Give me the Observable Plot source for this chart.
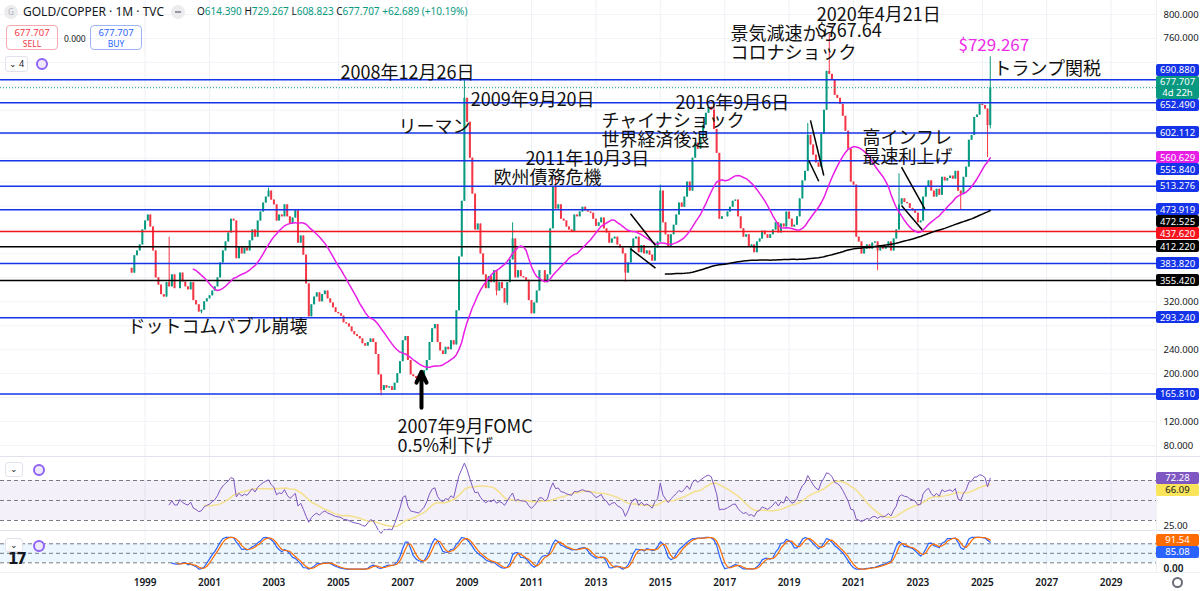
<!DOCTYPE html>
<html><head><meta charset="utf-8">
<script src="https://cdn.jsdelivr.net/npm/d3@7"></script>
<script src="https://cdn.jsdelivr.net/npm/@observablehq/plot@0.6"></script>
<style>
body{margin:0;background:#fff;}
#wrap{position:relative;width:1200px;height:591px;overflow:hidden;background:#fff;font-family:"Noto Sans",Roboto,sans-serif;color:#131722}
.pane{position:absolute;left:0}
.lbl{position:absolute;left:1156px;width:43px;font:9.5px "Noto Sans",Roboto,sans-serif;color:#fff;text-align:center;border-radius:2px;box-sizing:border-box;display:flex;flex-direction:column;justify-content:center;line-height:11px;z-index:5}
.hd{position:absolute;white-space:nowrap}
.g{color:#089981}
</style></head>
<body><div id="wrap">
<div id="main" class="pane" style="top:0"></div>
<div id="rsi" class="pane" style="top:457px"></div>
<div id="stoch" class="pane" style="top:531px"></div>
<div style="position:absolute;left:0;top:456px;width:1200px;height:1px;background:#e0e3eb"></div>
<div style="position:absolute;left:0;top:530px;width:1200px;height:1px;background:#e0e3eb"></div>
<div style="position:absolute;left:0;top:572px;width:1200px;height:1px;background:#eef0f4"></div>
<div style="position:absolute;left:1156px;top:0;width:1px;height:572px;background:#eef0f4"></div>

<div class="hd" style="left:4px;top:5px;width:14px;height:14px;border-radius:50%;background:#ececee;color:#b2b5be;font-size:8px;text-align:center;line-height:14px">G</div>
<div class="hd" style="left:23px;top:3px;font-size:12px;color:#131722">GOLD/COPPER · 1M · TVC</div>
<div class="hd" style="left:171px;top:5px;width:14px;height:14px;border-radius:50%;background:#ececee"><div style="position:absolute;left:4px;top:6px;width:6px;height:2px;background:#9598a1"></div></div>
<div class="hd" style="left:197px;top:4px;font-size:10px;color:#131722">O<span class="g">614.390</span> H<span class="g">729.267</span> L<span class="g">608.823</span> C<span class="g">677.707</span> <span class="g">+62.689 (+10.19%)</span></div>
<div class="hd" style="left:6px;top:25px;width:52px;height:25px;border:1px solid #f7a9b0;border-radius:4px;box-sizing:border-box;color:#f23645;text-align:center;font-size:9.5px;line-height:11px;padding-top:1px">677.707<br><span style="font-size:8.5px">SELL</span></div>
<div class="hd" style="left:64px;top:33px;font-size:8.5px;color:#131722">0.000</div>
<div class="hd" style="left:90px;top:25px;width:52px;height:25px;border:1px solid #9db4fb;border-radius:4px;box-sizing:border-box;color:#2962ff;text-align:center;font-size:9.5px;line-height:11px;padding-top:1px">677.707<br><span style="font-size:8.5px">BUY</span></div>
<div class="hd" style="left:5px;top:56px;width:23px;height:16px;border:1px solid #e0e3eb;border-radius:3px;box-sizing:border-box;font-size:9px;line-height:14px;text-align:center;color:#131722">&#8964; 4</div>
<div class="hd" style="left:36px;top:58px;width:12px;height:12px;border-radius:50%;border:2px solid #8f63f5;box-sizing:border-box;background:#efe9fe"></div>
<div class="hd" style="left:5px;top:462px;width:18px;height:15px;border:1px solid #e0e3eb;border-radius:3px;box-sizing:border-box;font-size:9px;line-height:12px;text-align:center;background:#fff">&#8964;</div>
<div class="hd" style="left:33px;top:464px;width:12px;height:12px;border-radius:50%;border:2px solid #8f63f5;box-sizing:border-box;background:#efe9fe"></div>
<div class="hd" style="left:5px;top:538px;width:18px;height:14px;border:1px solid #e0e3eb;border-radius:3px;box-sizing:border-box;font-size:9px;line-height:11px;text-align:center;background:#fff">&#8964;</div>
<div class="hd" style="left:33px;top:540px;width:12px;height:12px;border-radius:50%;border:2px solid #8f63f5;box-sizing:border-box;background:#efe9fe"></div>
<div class="hd" style="left:8px;top:550px;font-size:15px;font-weight:900;color:#131722;letter-spacing:-2px;font-family:'DejaVu Sans'">17</div>
<div class="hd" style="left:1172px;top:577px;width:11px;height:11px;border-radius:50%;border:2px solid #6a6d78;box-sizing:border-box"></div>
</div>
<script>
// ---------- data: monthly closes of GOLD/COPPER (TVC), first candle Aug 1998 ----------
const firstYear = 1998, firstMonth = 8, firstOpen = 376;
const close1998 = [368, 397, 405, 415, 440];
const close1999 = [455, 465, 445, 405, 360, 348, 332, 328, 352, 345, 365, 342];
const close2000 = [342, 368, 353, 345, 340, 352, 322, 315, 303, 306, 320, 325];
const close2001 = [330, 338, 345, 360, 385, 405, 420, 435, 458, 455, 392, 412];
const close2002 = [400, 410, 405, 422, 440, 428, 455, 470, 485, 495, 505, 490];
const close2003 = [482, 455, 465, 462, 482, 462, 450, 460, 472, 418, 430, 398];
const close2004 = [350, 295, 315, 328, 335, 320, 332, 338, 325, 318, 310, 302];
const close2005 = [300, 296, 285, 283, 278, 270, 265, 262, 258, 250, 246, 252];
const close2006 = [258, 252, 232, 198, 172, 180, 176, 178, 172, 184, 200, 220];
const close2007 = [255, 262, 222, 198, 195, 192, 188, 196, 205, 222, 252, 275];
const close2008 = [282, 252, 238, 232, 244, 240, 255, 248, 305, 395, 488, 660];
const close2009 = [620, 560, 500, 440, 450, 400, 365, 342, 362, 352, 372, 338];
const close2010 = [352, 342, 318, 352, 390, 425, 360, 372, 362, 360, 356, 322];
const close2011 = [300, 318, 338, 372, 372, 352, 365, 442, 512, 475, 482, 458];
const close2012 = [455, 445, 440, 436, 465, 462, 470, 478, 472, 470, 468, 458];
const close2013 = [446, 452, 460, 442, 435, 418, 425, 428, 415, 410, 400, 368];
const close2014 = [385, 410, 425, 428, 402, 414, 400, 405, 398, 388, 410, 420];
const close2015 = [505, 452, 432, 412, 432, 448, 465, 485, 478, 495, 520, 505];
const close2016 = [560, 585, 575, 595, 615, 635, 645, 640, 608, 568, 458, 462];
const close2017 = [462, 470, 478, 488, 490, 462, 442, 428, 432, 412, 415, 402];
const close2018 = [420, 425, 438, 432, 426, 432, 440, 452, 435, 450, 445, 470];
const close2019 = [458, 445, 448, 462, 492, 522, 538, 598, 582, 565, 552, 545];
const close2020 = [600, 640, 705, 700, 690, 665, 660, 650, 630, 605, 575, 520];
const close2021 = [515, 428, 420, 400, 408, 415, 408, 418, 420, 405, 412, 408];
const close2022 = [412, 420, 405, 425, 440, 482, 492, 486, 484, 476, 472, 468];
const close2023 = [452, 455, 495, 512, 522, 505, 495, 508, 498, 528, 522, 526];
const close2024 = [530, 525, 538, 505, 500, 528, 545, 590, 598, 628, 632, 650];
const close2025 = [648, 642, 614.39, 677.707];

// notable wicks
const highMonths = ["1999-10", "2002-11", "2008-12", "2010-06", "2011-10", "2015-01", "2016-09", "2019-08", "2020-04", "2022-06", "2025-04"];
const highValues = [428, 510, 690, 452, 528, 515, 650, 618, 767.64, 534, 729.267];
const lowMonths = ["2000-10", "2006-05", "2009-12", "2010-04", "2013-12", "2021-10", "2024-05", "2025-03", "2025-04"];
const lowValues = [300, 163, 330, 314, 353, 372, 473, 561, 608.823];

// horizontal levels
const blueLevels = [690.88, 652.49, 602.112, 555.84, 513.276, 473.919, 383.82, 293.24, 165.81];
const redLevels = [437.62];
const blackLevels = [412.22, 355.42];
const currentPrice = 677.707;
const countdown = "4d 22h";

// axes
const priceTicks = d3.range(80, 801, 40);
const rsiTicks = [25, 75];
const stochTicks = [0, 75];
const tickYears = d3.range(1999, 2030, 2);
const domainYears = [1994.509, 2030.41];
const mainDomain = [61.6, 823.4], rsiDomain = [19, 93], stochDomain = [-10.6, 118.8];

// annotations (anchor: left / vertical middle of the text block)
const noteText = ["2008年12月26日", "2009年9月20日", "リーマン", "2011年10月3日", "欧州債務危機", "チャイナショック\n世界経済後退", "2016年9月6日", "景気減速から\nコロナショック", "トランプ関税", "高インフレ\n最速利上げ", "ドットコムバブル崩壊", "2007年9月FOMC\n0.5%利下げ"];
const noteYear = [2005.07, 2009.11, 2006.87, 2010.81, 2009.82, 2013.17, 2015.47, 2017.18, 2025.35, 2021.28, 1998.45, 2006.84];
const notePrice = [703, 658, 613, 559, 527, 607, 653, 752, 710, 578.5, 279, 95];
const peakText = ["2020年4月21日\n$767.64"];
const peakYear = [2019.86];
const peakPrice = [785];
const pinkText = ["$729.267"];
const pinkYear = [2024.26];
const pinkPrice = [748];

// trend lines drawn on the chart
const trendYear1 = [2014.075, 2014.075, 2019.665, 2019.612, 2022.491, 2022.491];
const trendPrice1 = [467.0, 408.6, 623.1, 556.1, 544.9, 480.9];
const trendYear2 = [2014.851, 2014.851, 2020.078, 2019.922, 2023.214, 2023.134];
const trendPrice2 = [414.1, 376.2, 531.0, 521.5, 475.4, 440.3];
// FOMC arrow
const arrowYear = [2007.584];
const arrowFrom = [143];
const arrowTo = [203];

// ---------- build ----------
const yearToDate = y => { const yr = Math.floor(y); const s = Date.UTC(yr, 0, 1), e = Date.UTC(yr + 1, 0, 1); return new Date(s + (y - yr) * (e - s)); };
const monthKey = d => d.toISOString().slice(0, 7);
const closes = [].concat(close1998, close1999, close2000, close2001, close2002, close2003, close2004, close2005, close2006, close2007, close2008, close2009, close2010, close2011, close2012, close2013, close2014, close2015, close2016, close2017, close2018, close2019, close2020, close2021, close2022, close2023, close2024, close2025);
const candles = closes.map((c, i) => {
  const date = new Date(Date.UTC(firstYear, firstMonth - 1 + i, 1));
  const open = i === 0 ? firstOpen : closes[i - 1];
  let high = Math.max(open, c), low = Math.min(open, c);
  const k = monthKey(date);
  const hi = highMonths.indexOf(k); if (hi >= 0) high = Math.max(high, highValues[hi]);
  const li = lowMonths.indexOf(k); if (li >= 0) low = Math.min(low, lowValues[li]);
  return {date, open, close: c, high, low, up: c >= open};
});
const sma = (arr, k) => arr.map((_, i) => {
  if (i < k - 1) return NaN;
  const w = arr.slice(i - k + 1, i + 1);
  if (w.some(v => !isFinite(v))) return NaN;
  return d3.mean(w);
});
const sma24 = sma(closes, 24), sma200 = sma(closes, 200);
function rsiCalc(v, n) {
  const out = v.map(() => NaN);
  let g = 0, l = 0;
  for (let i = 1; i <= n; i++) { const d = v[i] - v[i - 1]; if (d > 0) g += d; else l -= d; }
  let ag = g / n, al = l / n;
  out[n] = al === 0 ? 100 : 100 - 100 / (1 + ag / al);
  for (let i = n + 1; i < v.length; i++) {
    const d = v[i] - v[i - 1];
    ag = (ag * (n - 1) + Math.max(d, 0)) / n; al = (al * (n - 1) + Math.max(-d, 0)) / n;
    out[i] = al === 0 ? 100 : 100 - 100 / (1 + ag / al);
  }
  return out;
}
const rsi = rsiCalc(closes, 14);
const rsiMa = sma(rsi, 14);
const rawK = candles.map((c, i) => {
  if (i < 13) return NaN;
  const w = candles.slice(i - 13, i + 1);
  const hh = d3.max(w, d => d.high), ll = d3.min(w, d => d.low);
  return hh === ll ? 50 : 100 * (c.close - ll) / (hh - ll);
});
const stochK = sma(rawK, 3), stochD = sma(stochK, 3);
const ind = candles.map((c, i) => ({date: c.date, sma24: sma24[i], sma200: sma200[i], rsi: rsi[i], rsiMa: rsiMa[i], k: stochK[i], d: stochD[i]}));
const def = key => ind.filter(d => isFinite(d[key]));
const last = ind[ind.length - 1];

const GREEN = "#089981", RED = "#f23645", BLUE = "#1533e8", MAG = "#e91ee6", LRED = "#f5141e";

// ---------- price-scale labels, positioned with the library's scales ----------
function placeLabels(items) {
  items.sort((a, b) => a.y - b.y);
  const f = Math.max(0, items.findIndex(d => d.fixed));
  for (let i = f + 1; i < items.length; i++) {
    const p = items[i - 1]; items[i].y = Math.max(items[i].y, p.y + p.h / 2 + items[i].h / 2);
  }
  for (let i = f - 1; i >= 0; i--) {
    const n = items[i + 1]; items[i].y = Math.min(items[i].y, n.y - n.h / 2 - items[i].h / 2);
  }
  return items;
}
const freeTicks = (ticks, scale, items) => ticks.filter(t => items.every(l => Math.abs(scale.apply(t) - l.y) > l.h / 2 + 5));

const sMain = Plot.scale({y: {domain: mainDomain, range: [456, 0]}});
const mainItems = [];
blueLevels.forEach(v => mainItems.push({v, bg: BLUE, fg: "#fff", lines: [v.toFixed(3)]}));
redLevels.forEach(v => mainItems.push({v, bg: LRED, fg: "#fff", lines: [v.toFixed(3)]}));
blackLevels.forEach(v => mainItems.push({v, bg: "#000", fg: "#fff", lines: [v.toFixed(3)]}));
mainItems.push({v: last.sma24, bg: MAG, fg: "#fff", lines: [last.sma24.toFixed(3)]});
mainItems.push({v: last.sma200, bg: "#000", fg: "#fff", lines: [last.sma200.toFixed(3)]});
mainItems.push({v: currentPrice, bg: GREEN, fg: "#fff", lines: [currentPrice.toFixed(3), countdown], fixed: true, h: 23});
mainItems.forEach(d => { d.y = sMain.apply(d.v); d.h = d.h || 12; });
placeLabels(mainItems);

const sRsi = Plot.scale({y: {domain: rsiDomain, range: [74, 0]}});
const rsiItems = [
  {v: last.rsi, bg: "#7e57c2", fg: "#fff", lines: [last.rsi.toFixed(2)], fixed: true},
  {v: last.rsiMa, bg: "#f9e45a", fg: "#131722", lines: [last.rsiMa.toFixed(2)]}
];
rsiItems.forEach(d => { d.y = sRsi.apply(d.v); d.h = 12; });
placeLabels(rsiItems);

const sSt = Plot.scale({y: {domain: stochDomain, range: [41, 0]}});
const stItems = [
  {v: last.d, bg: "#ff6d00", fg: "#fff", lines: [last.d.toFixed(2)], fixed: true},
  {v: last.k, bg: "#2962ff", fg: "#fff", lines: [last.k.toFixed(2)]}
];
stItems.forEach(d => { d.y = sSt.apply(d.v); d.h = 12; });
placeLabels(stItems);

// ---------- plots ----------
const xDomain = domainYears.map(yearToDate);
const yearTickDates = tickYears.map(y => new Date(Date.UTC(y, 0, 1)));
const gridX = Plot.ruleX(yearTickDates, {stroke: "#eef0f5", strokeWidth: 1});
const baseX = {type: "utc", domain: xDomain};
const toNotes = (texts, years, prices) => texts.map((t, i) => ({t, x: yearToDate(years[i]), y: prices[i]}));
const notes = toNotes(noteText, noteYear, notePrice);
const peaks = toNotes(peakText, peakYear, peakPrice);
const pinks = toNotes(pinkText, pinkYear, pinkPrice);
const trends = trendYear1.map((y, i) => ({x1: yearToDate(y), y1: trendPrice1[i], x2: yearToDate(trendYear2[i]), y2: trendPrice2[i]}));
const arrows = arrowYear.map((y, i) => ({x: yearToDate(y), y1: arrowFrom[i], y2: arrowTo[i]}));
const baseStyle = {background: "transparent", fontFamily: "'Noto Sans', Roboto, sans-serif", fontSize: "9.5px", color: "#131722", overflow: "visible"};
const CJK = "'Noto Sans CJK JP', sans-serif";

const main = Plot.plot({
  width: 1200, height: 456, marginLeft: 0, marginRight: 44, marginTop: 0, marginBottom: 0,
  style: baseStyle,
  x: {...baseX, axis: null},
  y: {domain: mainDomain, axis: "right", ticks: freeTicks(priceTicks, sMain, mainItems), tickFormat: d => d.toFixed(3), tickSize: 0, tickPadding: 7, label: null},
  marks: [
    gridX,
    Plot.ruleY(priceTicks, {stroke: "#f2f3f7"}),
    Plot.ruleX(candles, {x: "date", y1: "low", y2: "high", stroke: d => d.up ? GREEN : RED, strokeWidth: 1}),
    Plot.ruleX(candles, {x: "date", y1: "open", y2: "close", stroke: d => d.up ? GREEN : RED, strokeWidth: 2}),
    Plot.ruleY([currentPrice], {stroke: GREEN, strokeDasharray: "1,2", strokeWidth: 1}),
    Plot.ruleY(blueLevels, {stroke: BLUE, strokeWidth: 1.5}),
    Plot.ruleY(redLevels, {stroke: LRED, strokeWidth: 1.5}),
    Plot.ruleY(blackLevels, {stroke: "#000", strokeWidth: 1.5}),
    Plot.line(def("sma24"), {x: "date", y: "sma24", stroke: MAG, strokeWidth: 1.5}),
    Plot.line(def("sma200"), {x: "date", y: "sma200", stroke: "#000", strokeWidth: 1.5}),
    Plot.link(trends, {x1: "x1", y1: "y1", x2: "x2", y2: "y2", stroke: "#000", strokeWidth: 1.5}),
    Plot.arrow(arrows, {x1: "x", x2: "x", y1: "y1", y2: "y2", stroke: "#000", strokeWidth: 4, headLength: 12, headAngle: 50}),
    Plot.text(notes, {x: "x", y: "y", text: "t", textAnchor: "start", lineHeight: 1.08, fontSize: 18, fontFamily: CJK, fill: "#111"}),
    Plot.text(peaks, {x: "x", y: "y", text: "t", textAnchor: "start", lineHeight: 0.9, fontSize: 18, fontFamily: CJK, fill: "#111"}),
    Plot.text(pinks, {x: "x", y: "y", text: "t", textAnchor: "start", fontSize: 17, fontFamily: CJK, fill: "#ee2ce8"})
  ]
});
document.getElementById("main").appendChild(main);

const rsiPlot = Plot.plot({
  width: 1200, height: 74, marginLeft: 0, marginRight: 44, marginTop: 0, marginBottom: 0,
  style: baseStyle,
  x: {...baseX, axis: null},
  y: {domain: rsiDomain, axis: "right", ticks: freeTicks(rsiTicks, sRsi, rsiItems), tickFormat: d => d.toFixed(2), tickSize: 0, tickPadding: 7, label: null},
  marks: [
    gridX,
    Plot.rect([0], {x1: () => xDomain[0], x2: () => xDomain[1], y1: () => 30, y2: () => 70, fill: "#7e57c2", fillOpacity: 0.09}),
    Plot.ruleY([70, 50, 30], {stroke: "#787b86", strokeDasharray: "4,3", strokeWidth: 1}),
    Plot.line(def("rsiMa"), {x: "date", y: "rsiMa", stroke: "#f5e08c", strokeWidth: 1.5}),
    Plot.line(def("rsi"), {x: "date", y: "rsi", stroke: "#7e57c2", strokeWidth: 1})
  ]
});
document.getElementById("rsi").appendChild(rsiPlot);

const stochPlot = Plot.plot({
  width: 1200, height: 60, marginLeft: 0, marginRight: 44, marginTop: 0, marginBottom: 19,
  style: {...baseStyle, fontSize: "10px", fontWeight: "600"},
  x: {...baseX, axis: "bottom", ticks: yearTickDates, tickFormat: d => String(d.getUTCFullYear()), tickSize: 0, tickPadding: 6, label: null},
  y: {domain: stochDomain, axis: "right", ticks: freeTicks(stochTicks, sSt, stItems), tickFormat: d => d.toFixed(2), tickSize: 0, tickPadding: 7, label: null},
  marks: [
    gridX,
    Plot.rect([0], {x1: () => xDomain[0], x2: () => xDomain[1], y1: () => 20, y2: () => 80, fill: "#2196f3", fillOpacity: 0.09}),
    Plot.ruleY([80, 50, 20], {stroke: "#787b86", strokeDasharray: "4,3", strokeWidth: 1}),
    Plot.line(def("k"), {x: "date", y: "k", stroke: "#2962ff", strokeWidth: 1.2}),
    Plot.line(def("d"), {x: "date", y: "d", stroke: "#ff6d00", strokeWidth: 1.2})
  ]
});
document.getElementById("stoch").appendChild(stochPlot);

const wrap = document.getElementById("wrap");
function drawLabel(d, top) {
  const el = document.createElement("div");
  el.className = "lbl";
  el.style.top = (top + d.y - d.h / 2) + "px";
  el.style.height = d.h + "px";
  el.style.background = d.bg;
  el.style.color = d.fg;
  el.innerHTML = d.lines.join("<br>");
  wrap.appendChild(el);
}
mainItems.forEach(d => drawLabel(d, 0));
rsiItems.forEach(d => drawLabel(d, 457));
stItems.forEach(d => drawLabel(d, 531));
</script>
</body></html>
